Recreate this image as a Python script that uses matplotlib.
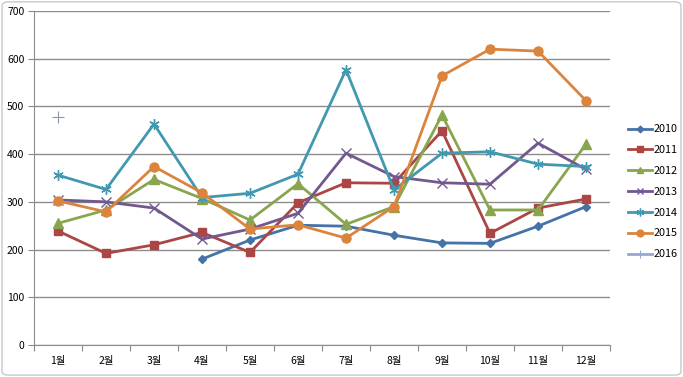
import numpy as np
import matplotlib
matplotlib.use("Agg")
import matplotlib.pyplot as plt
from matplotlib.patches import FancyBboxPatch

plt.rcParams["font.family"] = ["Noto Sans CJK KR", "DejaVu Sans"]

# monthly values (None = no data)
months = ["1월", "2월", "3월", "4월", "5월", "6월", "7월", "8월", "9월", "10월", "11월", "12월"]
y2010 = [None, None, None, 180, 220, 251, 249, 230, 214, 213, 249, 290]
y2011 = [239, 192, 210, 236, 194, 298, 340, 339, 449, 234, 287, 306]
y2012 = [255, 283, 347, 307, 262, 338, 253, 290, 482, 283, 283, 421]
y2013 = [304, 300, 287, 222, 243, 276, 402, 353, 340, 337, 423, 368]
y2014 = [356, 326, 463, 309, 318, 358, 577, 325, 402, 405, 379, 374]
y2015 = [302, 279, 374, 319, 243, 252, 224, 290, 564, 620, 616, 512]
y2016 = [477, None, None, None, None, None, None, None, None, None, None, None]

series = [
    ("2010", y2010, "#4572A7", "D", 4.5),
    ("2011", y2011, "#AA4643", "s", 6),
    ("2012", y2012, "#89A54E", "^", 6.5),
    ("2013", y2013, "#71588F", "x", 6.5),
    ("2014", y2014, "#4198AF", (6, 2, 0), 7.5),
    ("2015", y2015, "#DB843D", "o", 6.5),
    ("2016", y2016, "#8a95a8", "+", 9),
]

fig = plt.figure(figsize=(6.83, 3.77), dpi=100)
ax = fig.add_axes([34 / 683, 1 - 345 / 377, (610 - 34) / 683, (345 - 11) / 377])

x = np.arange(1, 13)
for name, vals, color, marker, ms in series:
    v = np.array([np.nan if a is None else a for a in vals], dtype=float)
    mew = 0.8 if name == "2016" else 1.0
    ax.plot(x, v, color=color, lw=2.0, marker=marker, ms=ms, mew=mew,
            label=name, linestyle="-" if name != "2016" else "none")

ax.set_xlim(0.5, 12.5)
ax.set_ylim(0, 700)
ax.set_yticks(range(0, 701, 100))
ax.set_xticks(np.arange(0.5, 13, 1))
ax.set_xticklabels([])
ax.set_xticks(x, minor=True)
ax.set_xticklabels(months, minor=True)
ax.tick_params(axis="x", which="minor", length=0, pad=8, labelsize=7.5)
ax.tick_params(axis="x", which="major", length=4, color="#888888")
ax.tick_params(axis="y", length=4, color="#888888", labelsize=7.5, pad=3)
ax.grid(axis="y", color="#8c8c8c", lw=1)
ax.set_axisbelow(True)
for s in ["top", "right"]:
    ax.spines[s].set_visible(False)
for s in ["left", "bottom"]:
    ax.spines[s].set_color("#8c8c8c")

handles, labels = ax.get_legend_handles_labels()
handles[-1] = plt.Line2D([], [], color="#93A9CF", lw=2.0, marker="+", ms=8, mew=0.8)
leg = fig.legend(handles, labels, loc="upper left", bbox_to_anchor=(624 / 683, 1 - 120 / 377),
                 frameon=False, fontsize=7.8, handlelength=2.2, handletextpad=0.1,
                 labelspacing=1.0, markerscale=0.75, borderaxespad=0)

fig.patches.append(FancyBboxPatch((0.003, 0.005), 0.994, 0.99, boxstyle="round,pad=0,rounding_size=0.01",
                                  transform=fig.transFigure, fill=False, ec="#c8c8c8", lw=1))

fig.savefig("out.png", dpi=100)
